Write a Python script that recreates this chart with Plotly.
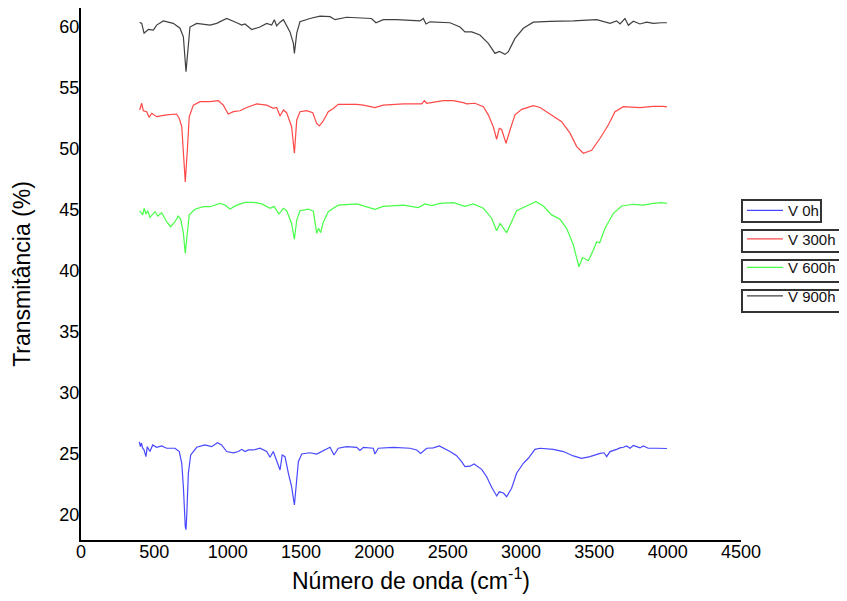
import plotly.graph_objects as go

# ---- data (wavenumber in cm-1, transmittance in %) ----
wn0 = [398, 405, 412, 420, 430, 443, 452, 470, 489, 516,
       550, 584, 641, 670, 687, 698, 711, 716, 721, 732,
       748, 789, 845, 891, 930, 959, 993, 1039, 1073, 1096,
       1118, 1141, 1175, 1220, 1266, 1289, 1311, 1334, 1357, 1372,
       1391, 1414, 1436, 1455, 1471, 1482, 1505, 1561, 1607, 1641,
       1698, 1725, 1754, 1811, 1880, 1902, 1925, 1993, 2004, 2027,
       2130, 2243, 2289, 2316, 2357, 2402, 2443, 2516, 2561, 2595,
       2618, 2652, 2680, 2732, 2766, 2800, 2834, 2852, 2880, 2902,
       2936, 2970, 3016, 3050, 3095, 3130, 3220, 3289, 3357, 3414,
       3470, 3539, 3566, 3584, 3607, 3652, 3675, 3698, 3720, 3743,
       3766, 3789, 3811, 3834, 3868, 3925, 3970, 3995]
t0 = [26.0, 25.6, 25.9, 25.5, 25.33, 24.78, 25.6, 25.2, 25.74, 25.55,
      25.66, 25.47, 25.47, 25.2, 24.24, 22.32, 19.04, 18.8, 20.0, 23.42,
      24.92, 25.55, 25.74, 25.6, 25.93, 25.74, 25.2, 25.1, 25.2, 25.38,
      25.2, 25.33, 25.33, 25.47, 25.2, 24.73, 25.2, 24.5, 23.69, 24.92,
      24.78, 23.42, 22.32, 20.82, 22.87, 24.37, 25.0, 25.1, 25.0, 25.2,
      25.55, 24.92, 25.47, 25.6, 25.55, 25.3, 25.55, 25.47, 25.0, 25.47,
      25.55, 25.47, 25.33, 25.05, 25.47, 25.5, 25.66, 25.2, 24.86, 24.37,
      23.96, 24.0, 24.18, 23.74, 23.14, 22.27, 21.56, 21.9, 21.8, 21.5,
      22.19, 23.42, 24.24, 24.65, 25.38, 25.47, 25.38, 25.2, 24.84, 24.65,
      24.78, 25.05, 25.1, 24.78, 25.2, 25.38, 25.5, 25.55, 25.66, 25.47,
      25.7, 25.6, 25.5, 25.66, 25.47, 25.47, 25.47, 25.45]

wn300 = [400, 414, 425, 448, 464, 482, 516, 584, 652, 670,
         687, 698, 711, 725, 738, 766, 811, 880, 936, 970,
         1004, 1039, 1084, 1130, 1198, 1266, 1311, 1334, 1357, 1380,
         1402, 1436, 1455, 1471, 1493, 1539, 1580, 1607, 1625, 1648,
         1686, 1720, 1754, 1880, 1925, 2004, 2061, 2198, 2323, 2341,
         2357, 2470, 2539, 2607, 2630, 2686, 2743, 2777, 2811, 2834,
         2852, 2868, 2898, 2925, 2959, 3005, 3084, 3130, 3198, 3277,
         3334, 3380, 3425, 3482, 3539, 3595, 3641, 3698, 3811, 3902,
         3970, 3995]
t300 = [53.2, 53.75, 53.14, 53.06, 52.6, 52.93, 52.65, 52.8, 52.87, 52.5,
        51.83, 49.9, 47.3, 49.9, 52.65, 53.6, 53.88, 53.88, 53.96, 53.6,
        52.87, 53.06, 53.14, 53.4, 53.7, 53.6, 53.33, 53.4, 52.7, 53.2,
        52.98, 51.83, 49.65, 52.38, 53.06, 53.14, 52.98, 52.1, 51.9, 52.24,
        53.06, 53.33, 53.66, 53.66, 53.6, 53.4, 53.6, 53.7, 53.7, 53.96,
        53.75, 53.96, 53.96, 53.8, 53.7, 53.75, 53.47, 52.8, 51.83, 50.8,
        51.7, 51.6, 50.47, 51.56, 52.8, 53.25, 53.55, 53.4, 52.87, 52.24,
        51.3, 50.2, 49.65, 49.9, 50.88, 51.97, 53.06, 53.47, 53.4, 53.5,
        53.5, 53.45]

wn600 = [400, 421, 430, 443, 455, 470, 505, 523, 550, 584,
         611, 641, 663, 680, 698, 711, 725, 738, 777, 834,
         880, 948, 982, 1016, 1062, 1118, 1175, 1232, 1289, 1316,
         1350, 1380, 1402, 1436, 1455, 1471, 1493, 1550, 1584, 1607,
         1620, 1634, 1652, 1686, 1720, 1754, 1880, 1925, 2004, 2061,
         2198, 2300, 2345, 2391, 2448, 2539, 2618, 2675, 2743, 2800,
         2834, 2857, 2902, 2936, 2970, 3027, 3073, 3102, 3152, 3209,
         3266, 3311, 3357, 3395, 3420, 3459, 3493, 3516, 3536, 3573,
         3630, 3686, 3766, 3834, 3902, 3959, 3995]
t600 = [44.94, 44.6, 45.14, 44.67, 44.94, 44.4, 44.86, 44.5, 44.78, 44.04,
        43.63, 44.04, 44.5, 44.24, 43.1, 41.45, 43.1, 44.6, 45.06, 45.27,
        45.27, 45.55, 45.4, 45.08, 45.4, 45.63, 45.63, 45.5, 45.14, 45.3,
        44.67, 45.14, 44.94, 43.9, 42.6, 44.18, 44.94, 45.08, 44.9, 43.1,
        43.5, 43.14, 44.0, 44.86, 45.14, 45.4, 45.5, 45.36, 45.06, 45.3,
        45.4, 45.2, 45.5, 45.36, 45.55, 45.6, 45.3, 45.5, 45.14, 44.33,
        43.3, 43.9, 43.14, 44.04, 44.94, 45.27, 45.5, 45.68, 45.33, 44.6,
        44.24, 43.5, 42.13, 40.35, 41.1, 40.84, 41.72, 42.4, 42.3, 43.5,
        44.73, 45.33, 45.47, 45.4, 45.55, 45.6, 45.55]

wn900 = [400, 414, 430, 459, 493, 516, 561, 629, 675, 698,
         716, 732, 743, 789, 880, 925, 993, 1062, 1096, 1118,
         1164, 1220, 1266, 1300, 1318, 1334, 1357, 1380, 1402, 1425,
         1448, 1455, 1471, 1493, 1561, 1630, 1698, 1732, 1811, 1925,
         1980, 2011, 2061, 2152, 2266, 2311, 2334, 2352, 2380, 2516,
         2584, 2618, 2664, 2720, 2777, 2823, 2852, 2891, 2914, 2959,
         3016, 3084, 3198, 3357, 3516, 3561, 3607, 3652, 3675, 3709,
         3732, 3766, 3811, 3857, 3902, 3959, 3995]
t900 = [60.4, 60.3, 59.5, 59.8, 59.75, 60.16, 60.5, 60.3, 59.9, 59.2,
        56.34, 58.9, 60.0, 60.3, 60.16, 60.3, 60.7, 60.35, 60.16, 60.25,
        59.8, 60.0, 60.3, 60.16, 60.6, 60.1, 60.4, 60.6, 60.16, 59.6,
        58.66, 57.84, 59.5, 60.43, 60.7, 60.9, 60.85, 60.6, 60.8, 60.77,
        60.7, 60.35, 60.6, 60.6, 60.55, 60.5, 60.7, 60.25, 60.43, 60.35,
        60.0, 59.6, 59.6, 59.35, 58.66, 57.84, 58.0, 57.76, 57.98, 59.07,
        59.9, 60.4, 60.47, 60.5, 60.6, 60.43, 60.3, 60.5, 60.25, 60.7,
        60.15, 60.48, 60.25, 60.4, 60.3, 60.35, 60.35]

series_names = ["V 0h", "V 300h", "V 600h", "V 900h"]
x_ticks = [0, 500, 1000, 1500, 2000, 2500, 3000, 3500, 4000, 4500]
y_ticks = [20, 25, 30, 35, 40, 45, 50, 55, 60]

# ---- styling ----
colors = ["rgba(40,40,255,0.85)", "rgba(255,40,40,0.85)", "rgba(40,255,40,0.85)", "rgba(30,30,30,0.85)"]
FONT = "Liberation Sans, Arial, sans-serif"
# legend frame boxes (paper coordinates): one frame around each legend entry
box_x0 = 1.0015
box_x1 = [1.1212, 1.1576, 1.1576, 1.1576]
box_top = [0.6391, 0.5827, 0.5263, 0.4699]
box_bot = [0.5977, 0.5414, 0.4850, 0.4286]

data = [(wn0, t0), (wn300, t300), (wn600, t600), (wn900, t900)]

fig = go.Figure()
for (x, y), name, c in zip(data, series_names, colors):
    fig.add_trace(go.Scatter(x=x, y=y, mode="lines", name=name, legendgroup=name,
                             line=dict(color=c, width=1.2)))

for x1, yt, yb in zip(box_x1, box_top, box_bot):
    fig.add_shape(type="rect", xref="paper", yref="paper", x0=box_x0, x1=x1, y0=yb, y1=yt,
                  line=dict(color="#333333", width=2), fillcolor="rgba(0,0,0,0)", layer="below")

fig.update_layout(
    width=839, height=593,
    margin=dict(l=73, r=106, t=0, b=61, autoexpand=False),
    paper_bgcolor="white", plot_bgcolor="white",
    font=dict(family=FONT, color="black"),
    showlegend=True,
    legend=dict(x=1.0015, xanchor="left", y=0.650, yanchor="top",
                borderwidth=0, bgcolor="rgba(0,0,0,0)", tracegroupgap=6,
                itemwidth=36, traceorder="grouped",
                font=dict(family=FONT, size=15, color="#111111")),
    xaxis=dict(range=[0, 4500], tickvals=x_ticks, ticktext=[str(v) for v in x_ticks],
               showgrid=False, zeroline=False, showline=True, linewidth=2, linecolor="black",
               ticks="", tickfont=dict(size=18, family=FONT), automargin=False,
               ticklabelstandoff=-6,
               title=dict(text="Número de onda (cm<sup>-1</sup>)", font=dict(size=23, family=FONT), standoff=12)),
    yaxis=dict(range=[17.95, 61.56], tickvals=y_ticks, ticktext=[str(v) for v in y_ticks],
               showgrid=False, zeroline=False, showline=True, linewidth=2, linecolor="black",
               ticks="", tickfont=dict(size=18, family=FONT), automargin=False,
               ticklabelstandoff=-4,
               title=dict(text="Transmitância (%)", font=dict(size=23, family=FONT), standoff=22)),
)

fig.write_html("out.html")
